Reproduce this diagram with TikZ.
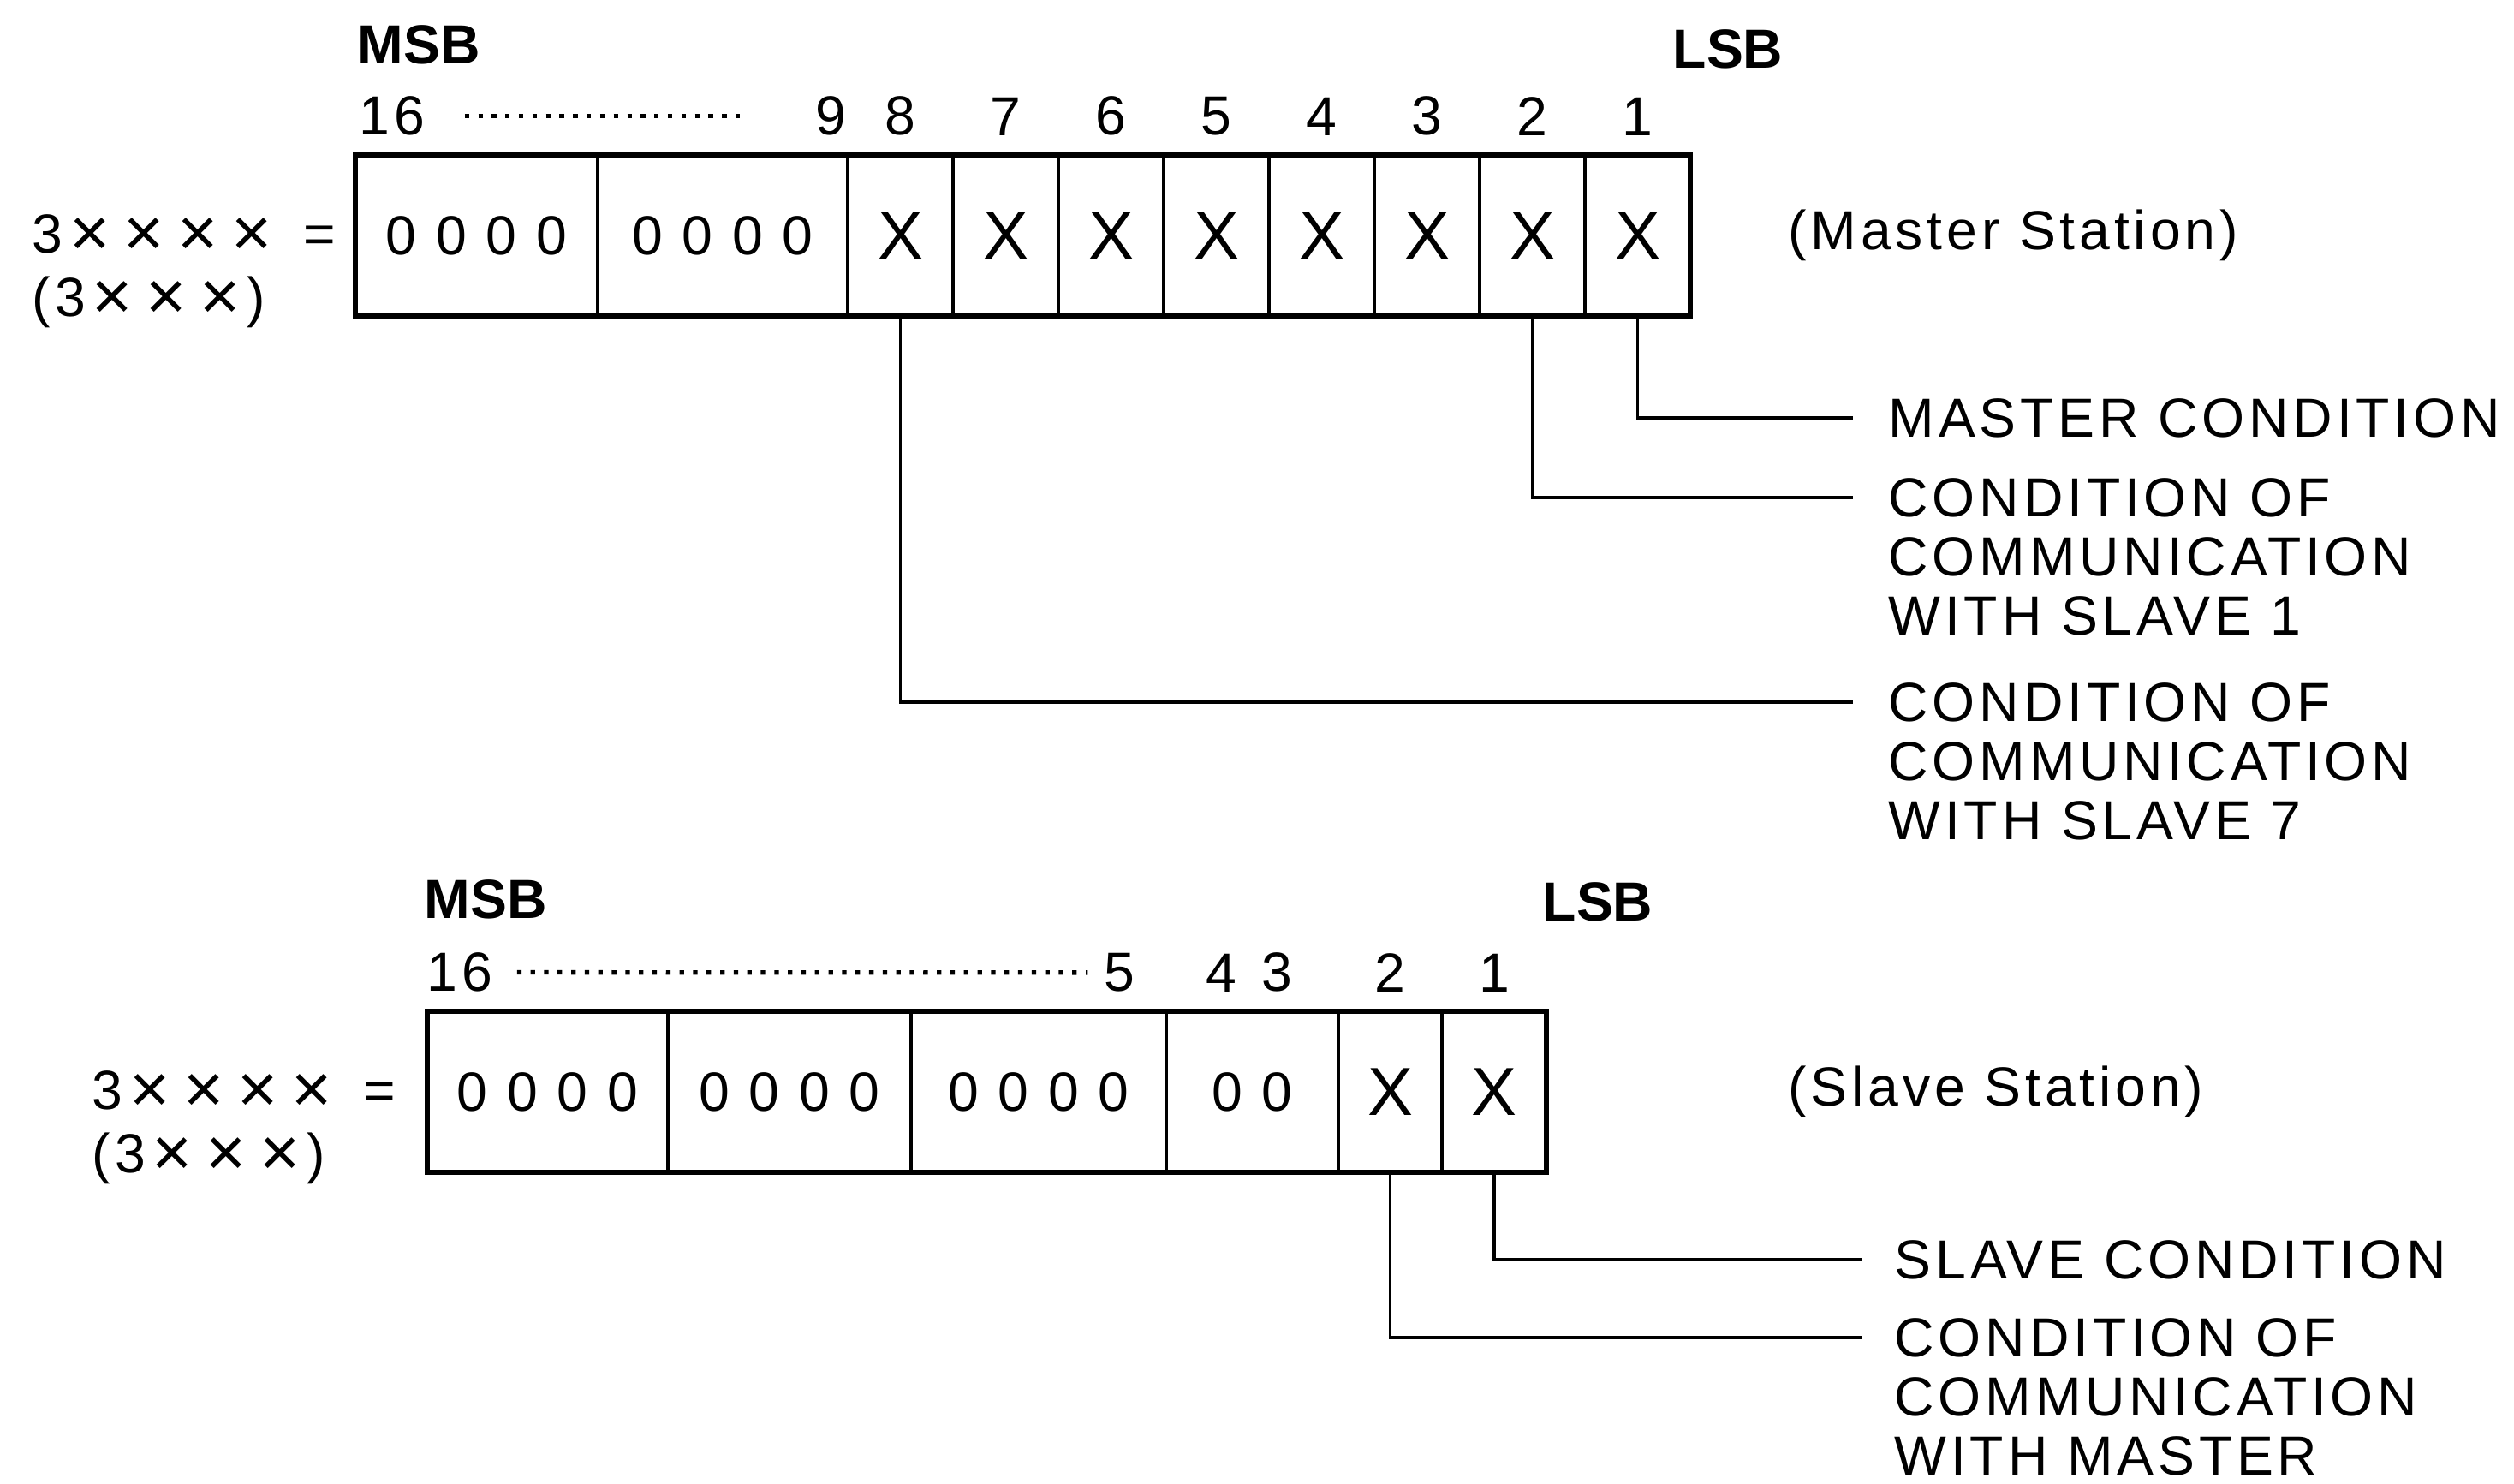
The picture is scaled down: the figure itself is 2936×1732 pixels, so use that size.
\documentclass[tikz,border=0pt]{standalone}
\usepackage{fontspec}
\setmainfont{Liberation Sans}
\newfontfamily\regfont[LetterSpace=7.5]{Liberation Sans}
\newcommand{\crs}{\makebox[6.3mm]{\raisebox{-0.4mm}{\fontsize{23}{24}\selectfont ×}}}
\usetikzlibrary{positioning,calc}
\tikzset{
regcell/.style={draw,line width=1.2pt,minimum height=18.8mm,inner sep=0pt,outer sep=0pt,font=\regfont\fontsize{18.3}{22}\selectfont},
bitcell/.style={regcell,minimum width=12.3mm,font=\fontsize{22.6}{26}\selectfont},
regframe/.style={line width=1.9pt},
lead/.style={line width=1pt},
note/.style={font=\regfont\fontsize{18.3}{19.6}\selectfont,inner sep=0pt,align=left,anchor=north west},
bitno/.style={font=\regfont\fontsize{18.3}{22}\selectfont,inner sep=0pt},
tag/.style={font=\bfseries\fontsize{18.3}{22}\selectfont,inner sep=0pt,anchor=south west},
formula/.style={font=\regfont\fontsize{18.3}{22}\selectfont,inner sep=0pt},
dotrow/.style={line width=1.5pt,dash pattern=on 1.5pt off 3pt}
}
\begin{document}
\begin{tikzpicture}[x=0.1mm,y=-0.1mm]
\useasboundingbox (0,0) rectangle (2936,1732);
% master station register
\node[regcell,anchor=west,minimum width=28.3mm] (mA) at (415,275) {0 0 0 0};
\node[regcell,right=0pt of mA,minimum width=29.2mm] (mB) {0 0 0 0};
\foreach \b [remember=\b as \p (initially B)] in {8,7,...,1}
  \node[bitcell,right=0pt of m\p] (m\b) {X};
\draw[regframe] (mA.north west) rectangle (m1.south east);
\foreach \b in {8,...,1}
  \node[bitno,above=2.2mm of m\b] (mn\b) {\b};
\node[bitno,anchor=south] (mn9) at ($(m8.north west)+(-20,-22)$) {9};
\node[bitno,anchor=south west] (mn16) at ($(mA.north west)+(4,-22)$) {16};
\draw[dotrow,shorten <=4.6mm,shorten >=8mm] (mn16) -- (mn9);
\node[tag] (msbM) at ($(mn16.north west)+(-2,-36)$) {MSB};
\node[tag] (lsbM) at ($(m1.north east)+(-21,-100)$) {LSB};
\node[formula,left=2.2mm of mA] (eqM) {3\crs\crs\crs\crs\hspace{2.9mm}=};
\node[formula,anchor=north west] (parM) at ($(eqM.west)+(0,47)$) {(3\crs\crs\crs)};
\node[note,right=11.4mm of m1] (mst) {(Master Station)};
\coordinate (t1) at (2164,488);
\coordinate (t2) at (2164,581);
\coordinate (t8) at (2164,820);
\draw[lead] (m1.south) |- (t1);
\draw[lead] (m2.south) |- (t2);
\draw[lead] (m8.south) |- (t8);
\node[note] (c1) at ($(t1)+(41,-23)$) {MASTER CONDITION};
\node[note] (c2) at ($(t2)+(41,-23)$) {CONDITION OF\\COMMUNICATION\\WITH SLAVE 1};
\node[note] (c8) at ($(t8)+(41,-23)$) {CONDITION OF\\COMMUNICATION\\WITH SLAVE 7};
% slave station register
\node[regcell,anchor=west,minimum width=28.1mm] (sA) at (499,1275) {0 0 0 0};
\node[regcell,right=0pt of sA,minimum width=28.4mm] (sB) {0 0 0 0};
\node[regcell,right=0pt of sB,minimum width=29.8mm] (sC) {0 0 0 0};
\node[regcell,right=0pt of sC,minimum width=20.1mm] (sD) {0 0};
\node[bitcell,right=0pt of sD,minimum width=12.1mm] (s2) {X};
\node[bitcell,right=0pt of s2,minimum width=12.2mm] (s1) {X};
\draw[regframe] (sA.north west) rectangle (s1.south east);
\node[bitno,above=2.2mm of s2] (sn2) {2};
\node[bitno,above=2.2mm of s1] (sn1) {1};
\node[bitno,anchor=south] (sn3) at ($(sD.north west)+(129,-22)$) {3};
\node[bitno,anchor=south] (sn4) at ($(sD.north west)+(64,-22)$) {4};
\node[bitno,anchor=south] (sn5) at ($(sC.north east)+(-55,-22)$) {5};
\node[bitno,anchor=south west] (sn16) at ($(sA.north west)+(-1,-22)$) {16};
\draw[dotrow,shorten <=2.8mm,shorten >=1.8mm] (sn16) -- (sn5);
\node[tag] (msbS) at ($(sn16.north west)+(-3,-38)$) {MSB};
\node[tag] (lsbS) at ($(s1.north east)+(-5,-104)$) {LSB};
\node[formula,left=3.6mm of sA] (eqS) {3\crs\crs\crs\crs\hspace{2.9mm}=};
\node[formula,anchor=north west] (parS) at ($(eqS.west)+(0,47)$) {(3\crs\crs\crs)};
\node[note,anchor=west] (slv) at (mst.west |- s1) {(Slave Station)};
\coordinate (u1) at (2175,1471);
\coordinate (u2) at (2175,1562);
\draw[lead] (s1.south) |- (u1);
\draw[lead] (s2.south) |- (u2);
\node[note] (d1) at ($(u1)+(37,-23)$) {SLAVE CONDITION};
\node[note] (d2) at ($(u2)+(37,-23)$) {CONDITION OF\\COMMUNICATION\\WITH MASTER};
\end{tikzpicture}
\end{document}
